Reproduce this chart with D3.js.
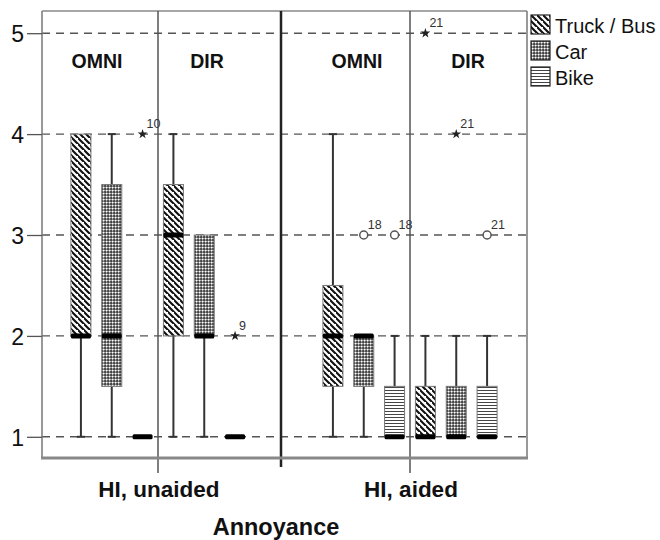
<!DOCTYPE html>
<html>
<head>
<meta charset="utf-8">
<script src="https://cdn.jsdelivr.net/npm/d3@7"></script>
<style>
  html, body { margin: 0; padding: 0; background: #fff; }
  svg { display: block; font-family: Arial, "Liberation Sans", sans-serif; }
</style>
</head>
<body>
<svg id="chart" width="660" height="540"></svg>
<script>
// Categories
const groups = ["HI, unaided", "HI, aided"];
const devices = ["OMNI", "DIR"];
const sources = ["Truck / Bus", "Car", "Bike"];
const yTicks = [1, 2, 3, 4, 5];

// Five-number summaries [min, q1, median, q3, max] per source (Truck / Bus, Car, Bike)
const unaidedOmni = [[1, 2, 2, 4, 4], [1, 1.5, 2, 3.5, 4], [1, 1, 1, 1, 1]];
const unaidedDir  = [[1, 2, 3, 3.5, 4], [1, 2, 2, 3, 3], [1, 1, 1, 1, 1]];
const aidedOmni   = [[1, 1.5, 2, 2.5, 4], [1, 1.5, 2, 2, 2], [1, 1, 1, 1.5, 2]];
const aidedDir    = [[1, 1, 1, 1.5, 2], [1, 1, 1, 1.5, 2], [1, 1, 1, 1.5, 2]];

// Outlying cases: [group, device, source, value, case id, kind]
const outliers = [
  ["HI, unaided", "OMNI", "Bike", 4, "10", "extreme"],
  ["HI, unaided", "DIR", "Bike", 2, "9", "extreme"],
  ["HI, aided", "OMNI", "Car", 3, "18", "outlier"],
  ["HI, aided", "OMNI", "Bike", 3, "18", "outlier"],
  ["HI, aided", "DIR", "Truck / Bus", 5, "21", "extreme"],
  ["HI, aided", "DIR", "Car", 4, "21", "extreme"],
  ["HI, aided", "DIR", "Bike", 3, "21", "outlier"]
];

const summaries = {
  "HI, unaided": { OMNI: unaidedOmni, DIR: unaidedDir },
  "HI, aided": { OMNI: aidedOmni, DIR: aidedDir }
};

const boxes = [];
groups.forEach(g => devices.forEach(d => sources.forEach((s, i) => {
  const [min, q1, med, q3, max] = summaries[g][d][i];
  boxes.push({ group: g, device: d, source: s, min, q1, med, q3, max });
})));

// Layout
const plotLeft = 42, plotRight = 527, plotTop = 11, plotBottom = 458;
const svg = d3.select("#chart");

const y = d3.scaleLinear().domain([0.79, 5.22]).range([plotBottom, plotTop]);
const x = d3.scalePoint().domain(groups).range([158, 410]);
const subKeys = devices.flatMap(d => sources.map(s => d + "|" + s));
const sub = d3.scaleBand().domain(subKeys).range([-92.5, 92.5]);
const cx = (g, d, s) => x(g) + sub(d + "|" + s) + sub.bandwidth() / 2;
const boxW = 20, capW = 8;

// Fill patterns
const defs = svg.append("defs");
const pTruck = defs.append("pattern").attr("id", "pat-truck")
  .attr("patternUnits", "userSpaceOnUse").attr("width", 6).attr("height", 6);
pTruck.append("rect").attr("width", 6).attr("height", 6).attr("fill", "#fff");
pTruck.append("path").attr("d", "M-1,-1L7,7M-4,2L2,8M4,-4L10,2")
  .attr("stroke", "#111").attr("stroke-width", 2.1);

const pCar = defs.append("pattern").attr("id", "pat-car")
  .attr("patternUnits", "userSpaceOnUse").attr("width", 3).attr("height", 3);
pCar.append("rect").attr("width", 3).attr("height", 3).attr("fill", "#333");
pCar.append("circle").attr("cx", 1.6).attr("cy", 1.6).attr("r", 1.15).attr("fill", "#fff");

const pBike = defs.append("pattern").attr("id", "pat-bike")
  .attr("patternUnits", "userSpaceOnUse").attr("width", 3).attr("height", 3);
pBike.append("rect").attr("width", 3).attr("height", 3).attr("fill", "#fff");
pBike.append("path").attr("d", "M0,0.5H3")
  .attr("stroke", "#444").attr("stroke-width", 1);

const fillOf = d3.scaleOrdinal().domain(sources)
  .range(["url(#pat-truck)", "url(#pat-car)", "url(#pat-bike)"]);

// Dashed reference lines at each tick
svg.append("g").selectAll("line").data(yTicks).join("line")
  .attr("x1", plotLeft).attr("x2", plotRight)
  .attr("y1", d => y(d)).attr("y2", d => y(d))
  .attr("stroke", "#555").attr("stroke-width", 1.4)
  .attr("stroke-dasharray", "8,6");

// Frame
svg.append("line").attr("x1", plotLeft).attr("x2", plotRight).attr("y1", plotTop).attr("y2", plotTop)
  .attr("stroke", "#888").attr("stroke-width", 1.5);
svg.append("line").attr("x1", plotRight).attr("x2", plotRight).attr("y1", plotTop).attr("y2", plotBottom)
  .attr("stroke", "#777").attr("stroke-width", 1.5);

// Left axis
const yAxis = d3.axisLeft(y).tickValues(yTicks).tickFormat(d3.format("d"))
  .tickSize(15).tickPadding(3);
const ya = svg.append("g").attr("transform", `translate(${plotLeft},0)`).call(yAxis);
ya.select(".domain").attr("stroke", "#777").attr("stroke-width", 1.5)
  .attr("d", `M0,${plotTop}V${plotBottom}`);
ya.selectAll(".tick line").attr("stroke", "#555").attr("stroke-width", 1.3);
ya.selectAll(".tick text").attr("font-size", 23).attr("fill", "#111")
  .attr("font-family", "Arial, 'Liberation Sans', sans-serif").attr("dy", "0.38em");

// Device dividers (at group ticks) and group divider
svg.append("g").selectAll("line").data(groups).join("line")
  .attr("x1", d => x(d)).attr("x2", d => x(d))
  .attr("y1", plotTop).attr("y2", plotBottom + 15)
  .attr("stroke", "#555").attr("stroke-width", 1.5);
const midX = 281;
svg.append("line").attr("x1", midX).attr("x2", midX).attr("y1", plotTop).attr("y2", plotBottom + 9)
  .attr("stroke", "#222").attr("stroke-width", 2.5);

// Bottom axis line
svg.append("line").attr("x1", plotLeft - 1).attr("x2", plotRight + 1).attr("y1", plotBottom).attr("y2", plotBottom)
  .attr("stroke", "#888").attr("stroke-width", 3);

// Boxplots
const gBox = svg.append("g");
boxes.forEach(b => {
  const c = cx(b.group, b.device, b.source);
  const g = gBox.append("g");
  if (b.min < b.q1) {
    g.append("line").attr("x1", c).attr("x2", c).attr("y1", y(b.min)).attr("y2", y(b.q1))
      .attr("stroke", "#333").attr("stroke-width", 2);
    g.append("line").attr("x1", c - capW / 2).attr("x2", c + capW / 2)
      .attr("y1", y(b.min)).attr("y2", y(b.min)).attr("stroke", "#333").attr("stroke-width", 2);
  }
  if (b.max > b.q3) {
    g.append("line").attr("x1", c).attr("x2", c).attr("y1", y(b.q3)).attr("y2", y(b.max))
      .attr("stroke", "#333").attr("stroke-width", 2);
    g.append("line").attr("x1", c - capW / 2).attr("x2", c + capW / 2)
      .attr("y1", y(b.max)).attr("y2", y(b.max)).attr("stroke", "#333").attr("stroke-width", 2);
  }
  if (b.q3 > b.q1) {
    g.append("rect").attr("x", c - boxW / 2).attr("y", y(b.q3))
      .attr("width", boxW).attr("height", y(b.q1) - y(b.q3))
      .attr("fill", fillOf(b.source)).attr("stroke", "#777").attr("stroke-width", 1);
  }
  g.append("rect").attr("x", c - boxW / 2).attr("y", y(b.med) - 2.5)
    .attr("width", boxW).attr("height", 5).attr("rx", 1.5)
    .attr("fill", "#000");
});

// Outlying cases
const star = d3.symbol().type(d3.symbolStar).size(30);
const gOut = svg.append("g");
outliers.forEach(([g, d, s, v, id, kind]) => {
  const px = cx(g, d, s), py = y(v);
  if (kind === "extreme") {
    gOut.append("path").attr("d", star()).attr("transform", `translate(${px},${py})`)
      .attr("fill", "#222");
  } else {
    gOut.append("circle").attr("cx", px).attr("cy", py).attr("r", 4)
      .attr("fill", "#fff").attr("stroke", "#555").attr("stroke-width", 1.5);
  }
  gOut.append("text").attr("x", px + 4).attr("y", py - 6)
    .attr("font-size", 12.5).attr("fill", "#333").text(id);
});

// Device labels inside each group
const deviceLabelOffset = { OMNI: [-61, -53], DIR: [49, 58] };
groups.forEach((g, gi) => devices.forEach(d => {
  svg.append("text").attr("x", x(g) + deviceLabelOffset[d][gi]).attr("y", 68)
    .attr("text-anchor", "middle").attr("font-size", 19.5).attr("font-weight", "bold")
    .attr("fill", "#111").text(d);
}));

// Group labels and axis title
svg.append("g").selectAll("text").data(groups).join("text")
  .attr("x", d => x(d) + 1).attr("y", 497).attr("text-anchor", "middle")
  .attr("font-size", 22.5).attr("font-weight", "bold").attr("fill", "#111").text(d => d);
svg.append("text").attr("x", 276).attr("y", 535).attr("text-anchor", "middle")
  .attr("font-size", 23.5).attr("font-weight", "bold").attr("fill", "#111").text("Annoyance");

// Legend
const legend = svg.append("g").selectAll("g").data(sources).join("g")
  .attr("transform", (d, i) => `translate(531,${15 + i * 26})`);
legend.append("rect").attr("width", 19).attr("height", 19)
  .attr("fill", d => fillOf(d)).attr("stroke", "#222").attr("stroke-width", 1.2);
legend.append("text").attr("x", 24).attr("y", 18).attr("font-size", 20)
  .attr("fill", "#111").text(d => d);
</script>
</body>
</html>
